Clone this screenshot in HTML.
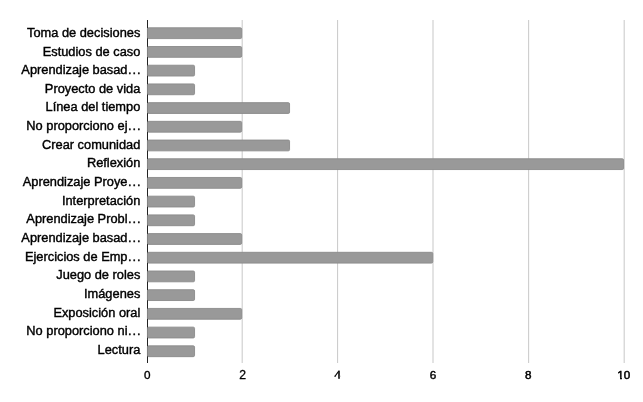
<!DOCTYPE html>
<html><head><meta charset="utf-8"><title>Chart</title>
<style>
html,body{margin:0;padding:0;background:#fff;}
body{width:643px;height:402px;overflow:hidden;}
svg{display:block;will-change:transform;opacity:0.999;}
text{font-family:"Liberation Sans",sans-serif;fill:#000;stroke:#000;stroke-width:0.4px;}
.lab{font-size:12.82px;text-anchor:end;}
.dots{text-anchor:start;letter-spacing:1.03px;}
.tick{font-size:11.7px;text-anchor:middle;stroke-width:0.5px;}
</style></head><body>
<svg width="643" height="402" viewBox="0 0 643 402">
<rect width="643" height="402" fill="#fff"/>
<defs><clipPath id="c10"><path d="M615 366H623.9V377.0H621.95V382H620.05V377.0H615Z M623.9 366H636V382H623.9Z"/></clipPath></defs>
<rect x="241.65" y="20" width="1.1" height="343" fill="#cdcdcd"/>
<rect x="337.00" y="20" width="1.1" height="343" fill="#cdcdcd"/>
<rect x="432.45" y="20" width="1.1" height="343" fill="#cdcdcd"/>
<rect x="528.05" y="20" width="1.1" height="343" fill="#cdcdcd"/>
<rect x="623.65" y="20" width="1.1" height="343" fill="#cdcdcd"/>
<rect x="147" y="20" width="1" height="343" fill="#222"/>
<rect x="147.45" y="27.80" width="94.20" height="10.80" rx="1.3" ry="1.3" fill="#999" stroke="#8a8a8a" stroke-width="0.9"/>
<rect x="147.45" y="46.51" width="94.20" height="10.80" rx="1.3" ry="1.3" fill="#999" stroke="#8a8a8a" stroke-width="0.9"/>
<rect x="147.45" y="65.22" width="47.10" height="10.80" rx="1.3" ry="1.3" fill="#999" stroke="#8a8a8a" stroke-width="0.9"/>
<rect x="147.45" y="83.93" width="47.10" height="10.80" rx="1.3" ry="1.3" fill="#999" stroke="#8a8a8a" stroke-width="0.9"/>
<rect x="147.45" y="102.64" width="142.10" height="10.80" rx="1.3" ry="1.3" fill="#999" stroke="#8a8a8a" stroke-width="0.9"/>
<rect x="147.45" y="121.34" width="94.20" height="10.80" rx="1.3" ry="1.3" fill="#999" stroke="#8a8a8a" stroke-width="0.9"/>
<rect x="147.45" y="140.05" width="142.10" height="10.80" rx="1.3" ry="1.3" fill="#999" stroke="#8a8a8a" stroke-width="0.9"/>
<rect x="147.45" y="158.76" width="476.10" height="10.80" rx="1.3" ry="1.3" fill="#999" stroke="#8a8a8a" stroke-width="0.9"/>
<rect x="147.45" y="177.47" width="94.20" height="10.80" rx="1.3" ry="1.3" fill="#999" stroke="#8a8a8a" stroke-width="0.9"/>
<rect x="147.45" y="196.18" width="47.10" height="10.80" rx="1.3" ry="1.3" fill="#999" stroke="#8a8a8a" stroke-width="0.9"/>
<rect x="147.45" y="214.89" width="47.10" height="10.80" rx="1.3" ry="1.3" fill="#999" stroke="#8a8a8a" stroke-width="0.9"/>
<rect x="147.45" y="233.60" width="94.20" height="10.80" rx="1.3" ry="1.3" fill="#999" stroke="#8a8a8a" stroke-width="0.9"/>
<rect x="147.45" y="252.31" width="285.30" height="10.80" rx="1.3" ry="1.3" fill="#999" stroke="#8a8a8a" stroke-width="0.9"/>
<rect x="147.45" y="271.01" width="47.10" height="10.80" rx="1.3" ry="1.3" fill="#999" stroke="#8a8a8a" stroke-width="0.9"/>
<rect x="147.45" y="289.72" width="47.10" height="10.80" rx="1.3" ry="1.3" fill="#999" stroke="#8a8a8a" stroke-width="0.9"/>
<rect x="147.45" y="308.43" width="94.20" height="10.80" rx="1.3" ry="1.3" fill="#999" stroke="#8a8a8a" stroke-width="0.9"/>
<rect x="147.45" y="327.14" width="47.10" height="10.80" rx="1.3" ry="1.3" fill="#999" stroke="#8a8a8a" stroke-width="0.9"/>
<rect x="147.45" y="345.85" width="47.10" height="10.80" rx="1.3" ry="1.3" fill="#999" stroke="#8a8a8a" stroke-width="0.9"/>
<text class="lab" x="140.3" y="36.85">Toma de decisiones</text>
<text class="lab" x="140.3" y="55.51">Estudios de caso</text>
<text class="lab" x="127.5" y="74.17">Aprendizaje basad</text><text class="lab dots" x="127.95" y="74.17">...</text>
<text class="lab" x="140.3" y="92.83">Proyecto de vida</text>
<text class="lab" x="140.3" y="111.49">Línea del tiempo</text>
<text class="lab" x="127.5" y="130.15">No proporciono ej</text><text class="lab dots" x="127.95" y="130.15">...</text>
<text class="lab" x="140.3" y="148.81">Crear comunidad</text>
<text class="lab" x="140.3" y="167.47">Reflexión</text>
<text class="lab" x="127.5" y="186.13">Aprendizaje Proye</text><text class="lab dots" x="127.95" y="186.13">...</text>
<text class="lab" x="140.3" y="204.79">Interpretación</text>
<text class="lab" x="127.5" y="223.45">Aprendizaje Probl</text><text class="lab dots" x="127.95" y="223.45">...</text>
<text class="lab" x="127.5" y="242.11">Aprendizaje basad</text><text class="lab dots" x="127.95" y="242.11">...</text>
<text class="lab" x="127.5" y="260.77">Ejercicios de Emp</text><text class="lab dots" x="127.95" y="260.77">...</text>
<text class="lab" x="140.3" y="279.43">Juego de roles</text>
<text class="lab" x="140.3" y="298.09">Imágenes</text>
<text class="lab" x="140.3" y="316.75">Exposición oral</text>
<text class="lab" x="127.5" y="335.41">No proporciono ni</text><text class="lab dots" x="127.95" y="335.41">...</text>
<text class="lab" x="140.3" y="354.07">Lectura</text>
<text class="tick" style="stroke-width:0.38px;font-size:11.7px" x="147.20" y="379.0">0</text>
<text class="tick" style="stroke-width:0.30px;font-size:12.2px" x="242.60" y="379.0">2</text>
<g fill="#0a0a0a"><rect x="338.2" y="370.6" width="1.6" height="8.2"/><path d="M338.3 370.7 L339.2 371.5 L335.9 376.0 L335.9 376.7 L334.3 376.7 L334.3 375.7 L334.9 375.5 Z"/><rect x="339.8" y="375.7" width="1.1" height="1.0" fill="#c8c8c8"/></g>
<text class="tick" style="stroke-width:0.42px;font-size:11.7px" x="433.05" y="379.0">6</text>
<text class="tick" style="stroke-width:0.50px;font-size:11.7px" x="528.25" y="379.0">8</text>
<text class="tick" clip-path="url(#c10)" style="stroke-width:0.50px;font-size:11.7px" x="623.85" y="379.0">10</text>
</svg></body></html>
